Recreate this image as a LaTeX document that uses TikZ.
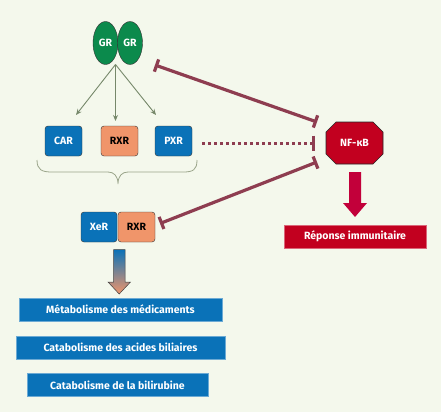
\documentclass[tikz,border=0pt]{standalone}
\usepackage{fontspec}
\setmainfont{Fira Sans}
\usetikzlibrary{arrows.meta,shapes.geometric}
\definecolor{bg}{HTML}{F4F8EC}
\definecolor{grg}{HTML}{0B8A4C}
\definecolor{bluebox}{HTML}{0A72B8}
\definecolor{orangebox}{HTML}{F0956A}
\definecolor{inhib}{HTML}{8E3D50}
\definecolor{nfred}{HTML}{C2001F}
\definecolor{arrowred}{HTML}{C2003A}
\definecolor{greenarrow}{HTML}{76886A}
\definecolor{bracec}{HTML}{9AA58A}
\tikzset{
  lbl/.style={font=\bfseries\fontsize{10.5}{12}\selectfont},
  grell/.style={ellipse,draw=black!80,fill=grg,minimum width=25pt,minimum height=43pt,inner sep=0pt,text=white,lbl},
  rbox/.style={rounded corners=3pt,draw=black!80,minimum width=37pt,minimum height=30pt,inner sep=0pt,lbl},
  bluer/.style={rbox,fill=bluebox,text=white},
  oranger/.style={rbox,fill=orangebox,text=black},
  outbox/.style={fill=bluebox,draw=bluebox!60!white,minimum height=23pt,inner sep=0pt,text=white,lbl},
  garrow/.style={draw=greenarrow,line width=0.9pt,-{Stealth[length=6pt,width=5pt]}},
  inh/.style={draw=inhib,line width=3.2pt},
  inhboth/.style={inh,{Bar[width=13pt,line width=3.2pt]}-{Bar[width=13pt,line width=3.2pt]}},
}
\begin{document}
\begin{tikzpicture}[x=1pt,y=-1pt]
\fill[bg] (0,0) rectangle (441,412);
\useasboundingbox (0,0) rectangle (441,412);
% GR dimer
\node[grell] (gr1) at (105.5,43) {GR};
\node[grell] (gr2) at (130,43) {GR};
\coordinate (grb) at (115.5,64.5);
% receptors
\node[bluer] (car) at (63.5,141) {CAR};
\node[oranger] (rxr1) at (119.5,141) {RXR};
\node[bluer] (pxr) at (173.5,141) {PXR};
\coordinate (cart) at (76,115);
\coordinate (rxrt) at (115.5,121);
\coordinate (pxrt) at (156,115);
\draw[garrow] (grb) -- (cart);
\draw[garrow] (grb) -- (rxrt);
\draw[garrow] (grb) -- (pxrt);
% brace
\draw[draw=bracec,line width=0.8pt] (37,160) .. controls (37,170) and (42,172) .. (52,172)
  -- (108,172) .. controls (114,172) and (118,176) .. (118,184)
  .. controls (118,176) and (122,172) .. (128,172) -- (183,172)
  .. controls (193,172) and (197,170) .. (197,160);
% NF-kB octagon
\fill[nfred,draw=black!85,line width=0.6pt] (336,122) -- (373,122) -- (383,132) -- (383,154) -- (373,164) -- (336,164) -- (326,154) -- (326,132) -- cycle;
\node[inner sep=0pt,text=white,lbl] (nfkb) at (354.5,143) {NF-κB};
% inhibition lines
\coordinate (nfa) at (317,122);
\coordinate (nfb) at (315,143);
\coordinate (nfc) at (317,162);
\coordinate (gre) at (155,65);
\coordinate (pxe) at (202,143);
\draw[inhboth] (gre) -- (nfa);
\draw[draw=inhib,line width=3pt,dash pattern=on 3pt off 3pt,-{Bar[width=15pt,line width=3.2pt]}] (pxe) -- (nfb);
% XeR/RXR
\node[bluer,minimum width=36pt] (xer) at (99,227) {XeR};
\node[oranger] (rxr2) at (136.5,227) {RXR};
\coordinate (rxe) at (160,223.5);
\draw[inhboth] (rxe) -- (nfc);
% red arrow
\fill[arrowred] (349,172) -- (361,172) -- (361,203) -- (367,203) -- (355,217) -- (343,203) -- (349,203) -- cycle;
\node[fill=nfred,draw=nfred!60!white,minimum width=142pt,minimum height=23pt,inner sep=0pt,text=white,lbl] (rep) at (355,236.5) {Réponse immunitaire};
% gradient arrow
\shade[top color=bluebox,bottom color=orangebox,draw=black!75,line width=0.5pt] (113.5,249.5) -- (125,249.5) -- (125,282) -- (130.5,282) -- (119.2,294) -- (108,282) -- (113.5,282) -- cycle;
% output boxes
\node[outbox,minimum width=203pt] (met) at (120.5,309.5) {Métabolisme des médicaments};
\node[outbox,minimum width=209pt] (aci) at (120.5,347.5) {Catabolisme des acides biliaires};
\node[outbox,minimum width=181pt] (bil) at (117.5,385) {Catabolisme de la bilirubine};
\end{tikzpicture}
\end{document}
